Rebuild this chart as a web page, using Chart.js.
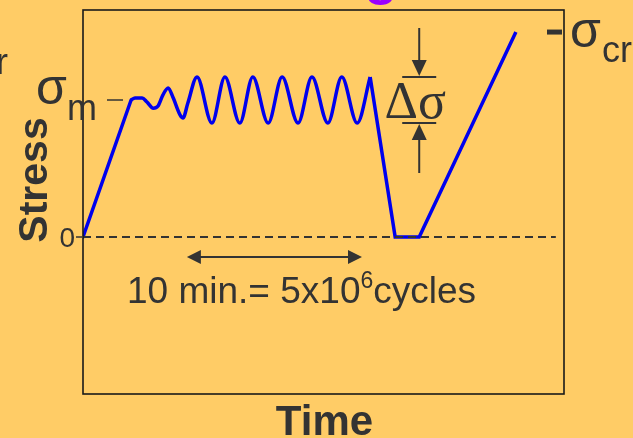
<!DOCTYPE html>
<html>
<head>
<meta charset="utf-8">
<script src="https://cdn.jsdelivr.net/npm/chart.js@4.4.1/dist/chart.umd.min.js"></script>
<style>
  html, body { margin: 0; padding: 0; background: #FFCC66; }
  #wrap { width: 633px; height: 438px; }
</style>
</head>
<body>
<div id="wrap"><canvas id="c" width="633" height="438"></canvas></div>
<script>
// Stress history (stress in units where the mean stress sigma_m = 100)
// Loading ramp up to the mean stress
const rampTime   = [0, 10.0];
const rampStress = [0, 100];

// Cyclic loading around sigma_m
const cycleTime   = [10.0, 10.8, 12.3, 13.3, 14.6, 15.6, 16.6, 17.7, 18.7, 20.2, 20.8, 21.8,
                     23.7, 26.8, 29.5, 32.6, 35.3, 38.5, 41.4, 44.7, 47.6, 50.9, 53.8, 57.0, 59.7];
const cycleStress = [100, 101.5, 101.5, 98.5, 94, 95.6, 103.6, 108.8, 102, 89, 86.9, 97.8,
                     116.8, 83.2, 116.8, 83.2, 116.8, 83.2, 116.8, 83.2, 116.8, 83.2, 116.8, 83.2, 116.8];

// Unloading, hold at zero, then ramp to critical stress
const unloadTime   = [59.7, 64.9, 69.9, 90.0];
const unloadStress = [116.8, 0, 0, 149.6];

// Zero-stress reference line
const zeroTime   = [0, 98.3];
const zeroStress = [0, 0];

// Annotation values
const sigmaMean = 100;
const sigmaPeak = 116.8;
const sigmaLow  = 83.2;
const sigmaCrit = unloadStress[unloadStress.length - 1];
const cycleSpan = [21.6, 58.0];

const toPts = (xs, ys) => xs.map((x, i) => ({ x: x, y: ys[i] }));

const ink = '#333333';
const sans = '"Liberation Sans", Arial, sans-serif';
const serif = '"Liberation Serif", "Times New Roman", serif';

function arrowHead(ctx, x, y, dx, dy, len, half) {
  // tip at (x,y), pointing along (dx,dy)
  const px = -dy, py = dx;
  ctx.beginPath();
  ctx.moveTo(x, y);
  ctx.lineTo(x - dx * len + px * half, y - dy * len + py * half);
  ctx.lineTo(x - dx * len - px * half, y - dy * len - py * half);
  ctx.closePath();
  ctx.fill();
}

const decorations = {
  id: 'decorations',
  afterDraw(chart) {
    const ctx = chart.ctx;
    const a = chart.chartArea;
    const xs = chart.scales.x, ys = chart.scales.y;
    ctx.save();

    // frame
    ctx.strokeStyle = '#1a1a1a';
    ctx.lineWidth = 1.6;
    ctx.strokeRect(a.left, a.top, a.right - a.left, a.bottom - a.top);

    ctx.fillStyle = ink;
    ctx.strokeStyle = ink;
    ctx.textBaseline = 'alphabetic';

    // title fragment and side text fragment
    ctx.fillStyle = '#9900FF';
    ctx.font = 'bold 54px ' + sans;
    ctx.textAlign = 'center';
    ctx.fillText('g', 381, -6);
    ctx.fillStyle = ink;
    ctx.font = '36px ' + sans;
    ctx.textAlign = 'right';
    ctx.fillText('r', 8, 74);

    // axis titles
    ctx.textAlign = 'center';
    ctx.font = 'bold 42px ' + sans;
    ctx.fillText('Time', (a.left + a.right) / 2 + 1, 435);
    ctx.save();
    ctx.translate(47, 180);
    ctx.rotate(-Math.PI / 2);
    ctx.font = 'bold 41px ' + sans;
    ctx.fillText('Stress', 0, 0);
    ctx.restore();

    // zero label
    const y0 = ys.getPixelForValue(0);
    ctx.font = '28px ' + sans;
    ctx.textAlign = 'right';
    ctx.fillText('0', 75, y0 + 10);
    ctx.lineWidth = 1.5;
    ctx.beginPath(); ctx.moveTo(76, y0); ctx.lineTo(82, y0); ctx.stroke();

    // sigma_m label
    const ym = ys.getPixelForValue(sigmaMean);
    ctx.textAlign = 'left';
    ctx.font = '50px ' + sans;
    ctx.fillText('\u03C3', 36, ym + 4);
    ctx.font = '36px ' + sans;
    ctx.fillText('m', 67, ym + 20);
    ctx.lineWidth = 1.5;
    ctx.beginPath(); ctx.moveTo(107, ym); ctx.lineTo(123, ym); ctx.stroke();

    // sigma_cr label
    const yc = ys.getPixelForValue(sigmaCrit);
    ctx.fillRect(547, yc - 2.5, 15, 5);
    ctx.font = '50px ' + sans;
    ctx.fillText('\u03C3', 570, yc + 15);
    ctx.font = '36px ' + sans;
    ctx.fillText('cr', 602, yc + 30);

    // delta sigma markers
    const xd = xs.getPixelForValue(unloadTime[2]);
    const yHi = ys.getPixelForValue(sigmaPeak);
    const yLo = ys.getPixelForValue(sigmaLow);
    ctx.lineWidth = 2;
    ctx.beginPath();
    ctx.moveTo(xd - 17, yHi); ctx.lineTo(xd + 17, yHi);
    ctx.moveTo(xd - 17, yLo); ctx.lineTo(xd + 17, yLo);
    ctx.moveTo(xd, yHi - 49); ctx.lineTo(xd, yHi - 14);
    ctx.moveTo(xd, yLo + 14); ctx.lineTo(xd, yLo + 50);
    ctx.stroke();
    arrowHead(ctx, xd, yHi - 1, 0, 1, 16, 7.5);
    arrowHead(ctx, xd, yLo + 1, 0, -1, 16, 7.5);
    ctx.font = '52px ' + serif;
    ctx.textAlign = 'center';
    ctx.fillText('\u0394\u03C3', xd - 4, (yHi + yLo) / 2 + 18);

    // cycle span arrow and text
    const xa = xs.getPixelForValue(cycleSpan[0]);
    const xb = xs.getPixelForValue(cycleSpan[1]);
    const ya = y0 + 20;
    ctx.lineWidth = 2;
    ctx.beginPath(); ctx.moveTo(xa + 10, ya); ctx.lineTo(xb - 10, ya); ctx.stroke();
    arrowHead(ctx, xa, ya, -1, 0, 14, 7);
    arrowHead(ctx, xb, ya, 1, 0, 14, 7);

    ctx.textAlign = 'left';
    ctx.font = '37px ' + sans;
    let tx = 127;
    const base = 303;
    const part1 = '10 min.= 5x10';
    ctx.fillText(part1, tx, base);
    tx += ctx.measureText(part1).width;
    ctx.font = '23px ' + sans;
    ctx.fillText('6', tx, base - 15);
    tx += ctx.measureText('6').width;
    ctx.font = '37px ' + sans;
    ctx.fillText('cycles', tx, base);

    ctx.restore();
  }
};

const blue = '#0000EE';
new Chart(document.getElementById('c'), {
  type: 'line',
  data: {
    datasets: [
      { data: toPts(zeroTime, zeroStress), borderColor: ink, borderWidth: 2, borderDash: [8, 5],
        pointRadius: 0, tension: 0 },
      { data: toPts(rampTime, rampStress), borderColor: blue, borderWidth: 3.5,
        pointRadius: 0, tension: 0, borderCapStyle: 'round' },
      { data: toPts(cycleTime, cycleStress), borderColor: blue, borderWidth: 3.5,
        pointRadius: 0, cubicInterpolationMode: 'monotone', borderJoinStyle: 'round' },
      { data: toPts(unloadTime, unloadStress), borderColor: blue, borderWidth: 3.5,
        pointRadius: 0, tension: 0, borderJoinStyle: 'miter' }
    ]
  },
  options: {
    responsive: false,
    animation: false,
    layout: { padding: { left: 83, right: 69, top: 10, bottom: 44 } },
    plugins: { legend: { display: false }, tooltip: { enabled: false }, title: { display: false } },
    scales: {
      x: { type: 'linear', min: 0, max: 100, display: false },
      y: { type: 'linear', min: -114.6, max: 165.7, display: false }
    }
  },
  plugins: [decorations]
});
</script>
</body>
</html>
